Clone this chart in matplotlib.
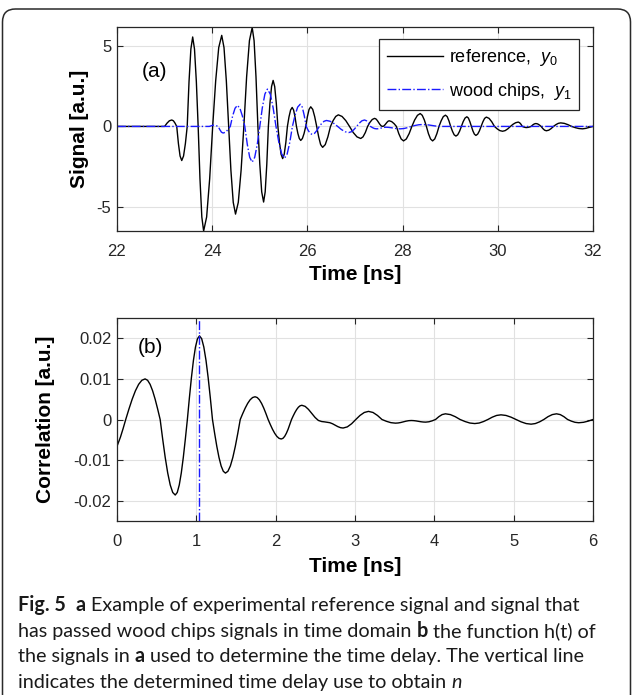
import numpy as np
import matplotlib
matplotlib.use("Agg")
import matplotlib.pyplot as plt
from matplotlib.lines import Line2D
from matplotlib.patches import FancyBboxPatch
from matplotlib.transforms import IdentityTransform

# ---- (a) time-domain signals (time in ns, signal in a.u.)
t_reference = [
    22.0, 23.0, 23.05, 23.10, 23.15,
    23.185, 23.22, 23.255, 23.29, 23.325, 23.36,
    23.398, 23.437, 23.475, 23.513, 23.552, 23.59,
    23.628, 23.667, 23.705, 23.743, 23.782, 23.82,
    23.883, 23.947, 24.01, 24.073, 24.137, 24.20,
    24.248, 24.297, 24.345, 24.393, 24.442, 24.49,
    24.548, 24.607, 24.665, 24.723, 24.782, 24.84,
    24.88, 24.92, 24.96, 25.0, 25.04, 25.08,
    25.113, 25.147, 25.18, 25.213, 25.247, 25.28,
    25.313, 25.347, 25.38, 25.413, 25.447, 25.48,
    25.513, 25.547, 25.58, 25.613, 25.647, 25.68,
    25.71, 25.74, 25.77, 25.80, 25.83, 25.86,
    25.895, 25.93, 25.965, 26.0, 26.035, 26.07,
    26.112, 26.153, 26.195, 26.237, 26.278, 26.32,
    26.375, 26.43, 26.485, 26.54, 26.595, 26.65,
    26.728, 26.807, 26.885, 26.963, 27.042, 27.12,
    27.168, 27.217, 27.265, 27.313, 27.362, 27.41,
    27.438, 27.467, 27.495, 27.523, 27.552, 27.58,
    27.603, 27.627, 27.65, 27.673, 27.697, 27.72,
    27.77, 27.82, 27.87, 27.92, 27.97, 28.02,
    28.078, 28.137, 28.195, 28.253, 28.312, 28.37,
    28.413, 28.457, 28.5, 28.543, 28.587, 28.63,
    28.675, 28.72, 28.765, 28.81, 28.855, 28.9,
    28.937, 28.973, 29.01, 29.047, 29.083, 29.12,
    29.158, 29.197, 29.235, 29.273, 29.312, 29.35,
    29.382, 29.413, 29.445, 29.477, 29.508, 29.54,
    29.577, 29.613, 29.65, 29.687, 29.723, 29.76,
    29.817, 29.873, 29.93, 29.987, 30.043, 30.1,
    30.155, 30.21, 30.265, 30.32, 30.375, 30.43,
    30.458, 30.487, 30.515, 30.543, 30.572, 30.6,
    30.633, 30.667, 30.7, 30.733, 30.767, 30.8,
    30.837, 30.873, 30.91, 30.947, 30.983, 31.02,
    31.07, 31.12, 31.17, 31.22, 31.27, 31.32,
    31.397, 31.473, 31.55, 31.627, 31.703, 31.78,
    31.85, 31.92, 32.0]
y_reference = [
    0.0, 0.0, 0.2, 0.35, 0.4,
    0.35, 0.2, 0.0, -1.06, -1.84, -2.12,
    -1.84, -1.06, 0.0, 2.78, 4.81, 5.56,
    4.81, 2.78, 0.0, -3.25, -5.63, -6.5,
    -5.63, -3.25, 0.0, 2.83, 4.9, 5.66,
    4.9, 2.83, 0.0, -2.73, -4.72, -5.45,
    -4.72, -2.73, 0.0, 3.08, 5.33, 6.15,
    5.33, 3.08, 0.0, -2.35, -4.07, -4.7,
    -4.07, -2.35, 0.0, 1.43, 2.48, 2.86,
    2.48, 1.43, 0.0, -1.0, -1.73, -2.0,
    -1.73, -1.0, 0.0, 0.59, 1.02, 1.18,
    1.02, 0.59, 0.0, -0.44, -0.75, -0.87,
    -0.75, -0.44, 0.0, 0.61, 1.06, 1.22,
    1.06, 0.61, 0.0, -0.65, -1.13, -1.3,
    -1.13, -0.65, 0.0, 0.36, 0.62, 0.72,
    0.62, 0.36, 0.0, -0.38, -0.65, -0.75,
    -0.65, -0.38, 0.0, 0.25, 0.43, 0.5,
    0.47, 0.375, 0.25, 0.125, 0.03, 0.0,
    0.02, 0.09, 0.175, 0.26, 0.33, 0.35,
    0.3, 0.175, 0.0, -0.45, -0.78, -0.9,
    -0.78, -0.45, 0.0, 0.4, 0.69, 0.8,
    0.69, 0.4, 0.0, -0.45, -0.78, -0.9,
    -0.78, -0.45, 0.0, 0.35, 0.61, 0.7,
    0.61, 0.35, 0.0, -0.3, -0.52, -0.6,
    -0.52, -0.3, 0.0, 0.3, 0.52, 0.6,
    0.52, 0.3, 0.0, -0.28, -0.48, -0.56,
    -0.48, -0.28, 0.0, 0.29, 0.5, 0.58,
    0.5, 0.29, 0.0, -0.15, -0.26, -0.3,
    -0.26, -0.15, 0.0, 0.135, 0.23, 0.27,
    0.23, 0.135, 0.0, -0.035, -0.06, -0.07,
    -0.06, -0.035, 0.0, 0.09, 0.156, 0.18,
    0.156, 0.09, 0.0, -0.135, -0.234, -0.27,
    -0.234, -0.135, 0.0, 0.11, 0.19, 0.22,
    0.19, 0.11, 0.0, -0.075, -0.13, -0.15,
    -0.12, -0.06, 0.0]

t_wood = [
    22.0, 23.94, 23.98, 24.02,
    24.055, 24.09, 24.125, 24.16, 24.195, 24.23,
    24.28, 24.33, 24.38, 24.43, 24.48, 24.53,
    24.582, 24.633, 24.685, 24.737, 24.788, 24.84,
    24.893, 24.947, 25.0, 25.053, 25.107, 25.16,
    25.22, 25.28, 25.34, 25.40, 25.46, 25.52,
    25.575, 25.63, 25.685, 25.74, 25.795, 25.85,
    25.892, 25.933, 25.975, 26.017, 26.058, 26.1,
    26.15, 26.2, 26.25, 26.3, 26.35, 26.4,
    26.478, 26.557, 26.635, 26.713, 26.792, 26.87,
    26.925, 26.98, 27.035, 27.09, 27.145, 27.2,
    27.242, 27.283, 27.325, 27.367, 27.408, 27.45,
    27.483, 27.517, 27.55, 27.583, 27.617, 27.65,
    27.70, 27.75, 27.8, 27.85, 27.9, 27.95,
    28.028, 28.107, 28.185, 28.263, 28.342, 28.42,
    28.55, 28.68, 28.8, 32.0]
y_wood = [
    0.0, 0.0, 0.04, 0.08,
    0.07, 0.04, 0.0, -0.2, -0.36, -0.41,
    -0.36, -0.2, 0.0, 0.66, 1.13, 1.31,
    1.13, 0.66, 0.0, -1.11, -1.92, -2.22,
    -1.92, -1.11, 0.0, 1.16, 2.01, 2.32,
    2.01, 1.16, 0.0, -0.99, -1.71, -1.98,
    -1.71, -0.99, 0.0, 0.69, 1.2, 1.38,
    1.2, 0.69, 0.0, -0.25, -0.43, -0.5,
    -0.43, -0.25, 0.0, 0.185, 0.32, 0.37,
    0.32, 0.185, 0.0, -0.19, -0.33, -0.38,
    -0.33, -0.19, 0.0, 0.2, 0.35, 0.4,
    0.35, 0.2, 0.0, -0.075, -0.13, -0.15,
    -0.143, -0.125, -0.1, -0.075, -0.057, -0.05,
    -0.057, -0.075, -0.1, -0.125, -0.143, -0.15,
    -0.13, -0.075, 0.0, 0.06, 0.104, 0.12,
    0.09, 0.03, 0.0, 0.0]

# ---- (b) correlation h(t), values in units of 1e-3
t_corr = [
    0.0, 0.0433, 0.0767, 0.11,
    0.1507, 0.1913, 0.232, 0.2727, 0.3133, 0.354,
    0.3857, 0.4173, 0.449, 0.4807, 0.5123, 0.544,
    0.5757, 0.6073, 0.639, 0.6707, 0.7023, 0.734,
    0.7595, 0.785, 0.8105, 0.836, 0.8615, 0.887,
    0.9125, 0.938, 0.9635, 0.989, 1.0145, 1.04,
    1.0673, 1.0945, 1.1218, 1.149, 1.1763, 1.2035,
    1.2308, 1.258, 1.2853, 1.3125, 1.3398, 1.367,
    1.3981, 1.4292, 1.4603, 1.4914, 1.5224, 1.5535,
    1.5846, 1.6157, 1.6468, 1.6778, 1.7089, 1.74,
    1.7675, 1.795, 1.8225, 1.85, 1.8775, 1.905,
    1.9325, 1.96, 1.9875, 2.015, 2.0425, 2.07,
    2.0917, 2.1133, 2.135, 2.1567, 2.1783, 2.2,
    2.2217, 2.2433, 2.265, 2.2867, 2.3083, 2.33,
    2.372, 2.413, 2.455, 2.497, 2.538, 2.58,
    2.615, 2.65, 2.683, 2.717, 2.75, 2.783, 2.817, 2.85,
    2.903, 2.957, 3.01, 3.063, 3.117, 3.17,
    3.227, 3.283, 3.34, 3.397, 3.453, 3.51,
    3.543, 3.577, 3.61, 3.643, 3.677, 3.71,
    3.74, 3.77, 3.80, 3.83, 3.86, 3.89,
    3.932, 3.973, 4.015, 4.057, 4.098, 4.14,
    4.202, 4.263, 4.325, 4.387, 4.448, 4.51,
    4.565, 4.62, 4.675, 4.73, 4.785, 4.84,
    4.903, 4.967, 5.03, 5.093, 5.157, 5.22,
    5.273, 5.327, 5.38, 5.433, 5.487, 5.54,
    5.587, 5.633, 5.68, 5.727, 5.773, 5.82,
    5.88, 5.94, 6.0]
corr_milli = [
    -6.6, -4.35, -2.25, 0.0,
    2.59, 5.0, 7.07, 8.66, 9.66, 10.0,
    9.66, 8.66, 7.07, 5.0, 2.59, 0.0,
    -4.81, -9.3, -13.15, -16.11, -17.97, -18.6,
    -17.97, -16.11, -13.15, -9.3, -4.81, 0.0,
    5.33, 10.3, 14.57, 17.84, 19.9, 20.6,
    19.9, 17.84, 14.57, 10.3, 5.33, 0.0,
    -3.42, -6.6, -9.33, -11.43, -12.75, -13.2,
    -12.75, -11.43, -9.33, -6.6, -3.42, 0.0,
    1.45, 2.8, 3.96, 4.85, 5.41, 5.6,
    5.41, 4.85, 3.96, 2.8, 1.45, 0.0,
    -1.24, -2.4, -3.39, -4.16, -4.64, -4.8,
    -4.64, -4.16, -3.39, -2.4, -1.24, 0.0,
    0.91, 1.75, 2.47, 3.03, 3.38, 3.5,
    3.23, 2.5, 1.5, 0.5, -0.23, -0.5,
    -0.58, -0.7, -0.79, -1.05, -1.4, -1.75, -2.01, -2.1,
    -1.82, -1.05, 0.0, 1.0, 1.73, 2.0,
    1.73, 1.0, 0.0, -0.45, -0.78, -0.9,
    -0.856, -0.74, -0.575, -0.41, -0.29, -0.25,
    -0.28, -0.35, -0.45, -0.55, -0.62, -0.65,
    -0.56, -0.325, 0.0, 0.7, 1.21, 1.4,
    1.21, 0.7, 0.0, -0.5, -0.87, -1.0,
    -0.87, -0.5, 0.0, 0.575, 1.0, 1.15,
    1.0, 0.575, 0.0, -0.575, -1.0, -1.15,
    -1.0, -0.575, 0.0, 0.7, 1.21, 1.4,
    1.21, 0.7, 0.0, -0.4, -0.69, -0.8,
    -0.69, -0.4, 0.0]
delay_ns = 1.03

signal_ticks = [-5, 0, 5]
time_ticks_a = [22, 24, 26, 28, 30, 32]
corr_ticks = [-0.02, -0.01, 0, 0.01, 0.02]
corr_tick_labels = ["-0.02", "-0.01", "0", "0.01", "0.02"]
time_ticks_b = [0, 1, 2, 3, 4, 5, 6]

legend_labels = [r"reference,  $y_0$", r"wood chips,  $y_1$"]

caption_lines = [
    [("Fig. 5", "bold", "normal", 2), ("a", "bold", "normal", 1),
     ("Example of experimental reference signal and signal that", "normal", "normal", 0)],
    [("has passed wood chips signals in time domain", "normal", "normal", 1),
     ("b", "bold", "normal", 1), ("the function h(t) of", "normal", "normal", 0)],
    [("the signals in", "normal", "normal", 1), ("a", "bold", "normal", 1),
     ("used to determine the time delay. The vertical line", "normal", "normal", 0)],
    [("indicates the determined time delay use to obtain", "normal", "normal", 1),
     ("n", "normal", "italic", 0)],
]

# ---- style
plt.rcParams["font.family"] = ["Liberation Sans", "DejaVu Sans"]
plt.rcParams["axes.unicode_minus"] = False
plt.rcParams["mathtext.fontset"] = "custom"
plt.rcParams["mathtext.rm"] = "Liberation Sans"
plt.rcParams["mathtext.it"] = "Liberation Sans:italic"

W, H = 634, 695
AX_COL = "#262626"
BLUE = "#1a1aff"

fig = plt.figure(figsize=(W / 100, H / 100), dpi=100)
ax1 = fig.add_axes([117 / W, 1 - 231 / H, 476 / W, 204 / H])
ax2 = fig.add_axes([117 / W, 1 - 521 / H, 476 / W, 203 / H])


def style_axes(ax):
    ax.grid(True, color="#e1e1e1", linewidth=0.8)
    ax.set_axisbelow(True)
    ax.tick_params(direction="in", top=True, right=True, length=4, width=0.8,
                   colors=AX_COL, labelsize=12)
    ax.tick_params(axis="x", pad=9)
    ax.tick_params(axis="y", pad=4)
    for sp in ax.spines.values():
        sp.set_color(AX_COL)
        sp.set_linewidth(0.9)


# (a)
ax1.plot(t_reference, y_reference, color="k", linewidth=1.0)
ax1.plot(t_wood, y_wood, color=BLUE, linewidth=1.0, linestyle="-.")
ax1.set_xlim(22, 32)
ax1.set_ylim(-6.5, 6.18)
ax1.set_xticks(time_ticks_a)
ax1.set_yticks(signal_ticks)
style_axes(ax1)
ax1.set_xlabel("Time [ns]", fontsize=15, fontweight="bold", labelpad=5)
ax1.set_ylabel("Signal [a.u.]", fontsize=15, fontweight="bold")
ax1.yaxis.set_label_coords(-0.058, 0.5)
ax1.text(0.052, 0.78, "(a)", transform=ax1.transAxes, fontsize=15, va="center")
handles = [Line2D([], [], color="k", linewidth=1.0),
           Line2D([], [], color=BLUE, linewidth=1.0, linestyle="-.")]
leg = ax1.legend(handles, legend_labels, loc="upper right",
                 bbox_to_anchor=(0.971, 0.941), fontsize=13, fancybox=False,
                 edgecolor=AX_COL, framealpha=1, borderaxespad=0, borderpad=0.45,
                 handlelength=3.1, handletextpad=0.3, labelspacing=0.7)
leg.get_frame().set_linewidth(0.9)

# (b)
ax2.plot(t_corr, np.array(corr_milli) * 1e-3, color="k", linewidth=1.0)
ax2.axvline(delay_ns, color=BLUE, linewidth=1.0, linestyle="-.")
ax2.set_xlim(0, 6)
ax2.set_ylim(-0.025, 0.025)
ax2.set_xticks(time_ticks_b)
ax2.set_yticks(corr_ticks)
ax2.set_yticklabels(corr_tick_labels)
style_axes(ax2)
ax2.set_xlabel("Time [ns]", fontsize=15, fontweight="bold", labelpad=6)
ax2.set_ylabel("Correlation [a.u.]", fontsize=15, fontweight="bold")
ax2.yaxis.set_label_coords(-0.13, 0.5)
ax2.text(0.044, 0.857, "(b)", transform=ax2.transAxes, fontsize=15, va="center")

# rounded card border
card = FancyBboxPatch((2.5, -40), 628, 686 + 40, boxstyle="round,pad=0,rounding_size=13",
                      transform=IdentityTransform(), fill=False,
                      edgecolor="#2a2a2a", linewidth=1.1)
fig.add_artist(card)

# caption, drawn run by run so bold/italic words sit inline
renderer = fig.canvas.get_renderer()
CAP_FONT = "Lato"


def text_width(s, size, weight="normal", style="normal"):
    t = fig.text(0, 0, s, fontsize=size, fontweight=weight, fontstyle=style,
                 family=CAP_FONT)
    w = t.get_window_extent(renderer).width
    t.remove()
    return w


def line_width(runs, size):
    sp = text_width("a a", size) - text_width("aa", size)
    return sum(text_width(s, size, wt, st) + n * sp for s, wt, st, n in runs)


cap_size = 10 * 580 / line_width(caption_lines[1], 10)
space = text_width("a a", cap_size) - text_width("aa", cap_size)
baselines = [611, 637, 662, 688]
for runs, base in zip(caption_lines, baselines):
    x = 18
    for s, wt, st, n in runs:
        fig.text(x / W, 1 - base / H, s, fontsize=cap_size, fontweight=wt,
                 fontstyle=st, family=CAP_FONT, va="baseline", color="#1a1a1a")
        x += text_width(s, cap_size, wt, st) + n * space

fig.savefig("out.png", dpi=100)
